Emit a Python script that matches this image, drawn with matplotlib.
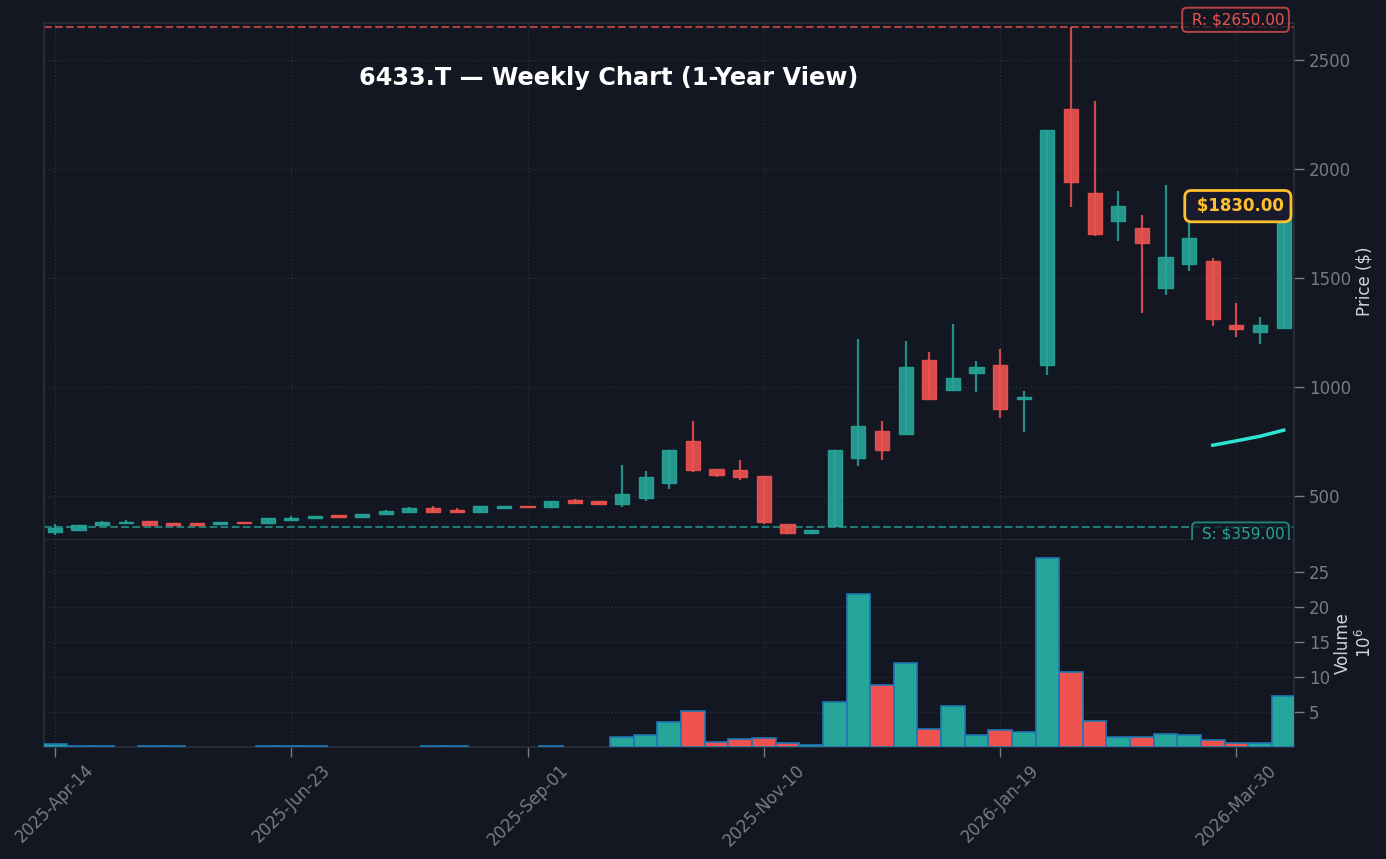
import matplotlib
matplotlib.use("Agg")
import matplotlib.pyplot as plt
import numpy as np

# weekly candles, prices
opens = [336, 345, 368, 376, 388, 379, 379, 373, 384, 378, 391, 400, 416, 405, 419, 428,
         448, 436, 428, 446, 457, 451, 485, 480, 466, 494, 561, 752, 627, 622, 595, 375,
         332, 362, 674, 798, 784, 1124, 986, 1064, 1101, 945, 1101, 2275, 1890, 1761, 1729,
         1454, 1564, 1578, 1284, 1252, 1270]
closes = [353, 370, 384, 384, 368, 368, 368, 384, 378, 398, 402, 411, 405, 420, 434, 448,
          428, 428, 453, 457, 451, 480, 469, 465, 508, 590, 714, 620, 598, 589, 382, 332,
          347, 714, 821, 711, 1092, 945, 1041, 1092, 899, 955, 2179, 1940, 1702, 1830, 1660,
          1596, 1683, 1312, 1266, 1284, 1830]
highs = [372, 370, 386, 390, 388, 379, 379, 384, 384, 400, 408, 411, 416, 420, 436, 450,
         454, 445, 453, 457, 457, 480, 487, 480, 642, 618, 714, 844, 627, 665, 595, 375,
         347, 714, 1220, 844, 1211, 1160, 1289, 1119, 1174, 982, 2179, 2650, 2312, 1899, 1789,
         1927, 1800, 1592, 1385, 1321, 1830]
lows = [321, 345, 368, 376, 366, 368, 368, 373, 378, 378, 391, 394, 405, 405, 417, 428,
        428, 428, 428, 446, 451, 451, 469, 465, 451, 478, 533, 611, 589, 573, 373, 332,
        326, 362, 638, 665, 784, 945, 986, 977, 858, 794, 1055, 1826, 1693, 1670, 1339,
        1422, 1532, 1280, 1229, 1197, 1270]
volumes = [0.4, 0.1, 0.1, 0, 0.1, 0.1, 0, 0, 0, 0.1, 0.1, 0.1, 0, 0, 0, 0,
           0.1, 0.1, 0, 0, 0, 0.1, 0, 0, 1.4, 1.67, 3.5, 5.1, 0.67, 1.1, 1.24, 0.52,
           0.24, 6.4, 21.8, 8.8, 11.95, 2.5, 5.8, 1.67, 2.4, 2.1, 26.9, 10.7, 3.7, 1.4, 1.4,
           1.8, 1.67, 0.95, 0.5, 0.5, 7.2]
ma_x = [49, 50, 51, 52]
ma_values = [734, 754, 775, 803]
tick_pos = [0, 10, 20, 30, 40, 50]
tick_labels = ["2025-Apr-14", "2025-Jun-23", "2025-Sep-01", "2025-Nov-10", "2026-Jan-19", "2026-Mar-30"]
resistance = 2650
support = 359
last_price = 1830

BG = "#131722"
GRID = "#2a2e39"
UP = "#26a69a"
DOWN = "#ef5350"
MUTED = "#787b86"
LABEL = "#d1d4dc"
W, H = 1386, 859

opens, closes, highs, lows = map(np.array, (opens, closes, highs, lows))
volumes = np.array(volumes)
x = np.arange(len(opens))
colors = np.array([UP if c >= o else DOWN for o, c in zip(opens, closes)])


def px_axes(left, top, right, bottom):
    return [left / W, 1 - bottom / H, (right - left) / W, (bottom - top) / H]


fig = plt.figure(figsize=(W / 100, H / 100), dpi=100, facecolor=BG)
ax = fig.add_axes(px_axes(44.3, 22.5, 1294.3, 540.3))
vax = fig.add_axes(px_axes(44.3, 540.3, 1294.3, 746.7), sharex=ax)

for a in (ax, vax):
    a.set_facecolor(BG)
    a.grid(True, color=GRID, linestyle=":", linewidth=1)
    a.set_axisbelow(True)
    a.yaxis.tick_right()
    a.yaxis.set_label_position("right")
    a.tick_params(axis="y", colors=MUTED, labelsize=12, length=7, width=1)
    for s in a.spines.values():
        s.set_color(GRID)
        s.set_linewidth(1.3)

# candles
ax.vlines(x, lows, highs, colors=colors, linewidth=1.6, alpha=0.85, zorder=2)
ax.bar(x, np.abs(closes - opens), bottom=np.minimum(opens, closes), width=0.6,
       color=colors, edgecolor=colors, linewidth=1, alpha=0.9, zorder=3)
ax.plot(ma_x, ma_values, color="#2ee6d0", linewidth=2.5, zorder=4)

ax.axhline(resistance, color=DOWN, linestyle="--", linewidth=1.5, alpha=0.7, zorder=2)
ax.axhline(support, color=UP, linestyle="--", linewidth=1.5, alpha=0.7, zorder=2)

tr = ax.get_yaxis_transform()
ax.annotate(f" R: ${resistance:.2f}", (0.992, resistance), xycoords=tr, xytext=(0, 0),
            textcoords="offset pixels", ha="right", va="bottom", color=DOWN, fontsize=11, zorder=6,
            bbox=dict(boxstyle="round,pad=0.3", fc=BG, ec=DOWN, lw=1.4, alpha=0.75))
ax.annotate(f" S: ${support:.2f}", (0.992, support), xycoords=tr, xytext=(0, 0),
            textcoords="offset pixels", ha="right", va="top", color=UP, fontsize=11, zorder=6,
            bbox=dict(boxstyle="round,pad=0.3", fc=BG, ec=UP, lw=1.4, alpha=0.75))
ax.annotate(f" ${last_price:.2f}", (0.992, last_price), xycoords=tr, ha="right", va="center",
            color="#ffc02e", fontsize=12, fontweight="bold", zorder=7,
            bbox=dict(boxstyle="round,pad=0.4", fc="#1a1a2e", ec="#ffc02e", lw=2))

ax.set_ylim(298, 2672)
ax.set_yticks([500, 1000, 1500, 2000, 2500])
ax.set_ylabel("Price ($)", color=LABEL, fontsize=12, labelpad=3)
ax.tick_params(axis="x", length=0, labelbottom=False)

# volume panel, weeks with next to no volume stay empty
has_vol = volumes > 0
vax.bar(x[has_vol], volumes[has_vol], width=1.0, color=colors[has_vol], edgecolor="#1f77b4",
        linewidth=1.2, zorder=3)
vax.set_xlim(-0.45, 52.45)
vax.set_ylim(0, 29.5)
vax.set_yticks([5, 10, 15, 20, 25])
vax.set_ylabel("Volume\n$10^{6}$", color=LABEL, fontsize=12, labelpad=3)
vax.spines["top"].set_visible(False)
vax.set_xticks(tick_pos)
vax.set_xticklabels(tick_labels, rotation=45, ha="center")
vax.tick_params(axis="x", colors=MUTED, labelsize=12, length=7, width=1)

fig.text(608.5 / W, 1 - 77.5 / H, "6433.T \u2014 Weekly Chart (1-Year View)", color="white",
         fontsize=17.3, fontweight="bold", ha="center", va="center")

fig.savefig("out.png", dpi=100, facecolor=BG)
